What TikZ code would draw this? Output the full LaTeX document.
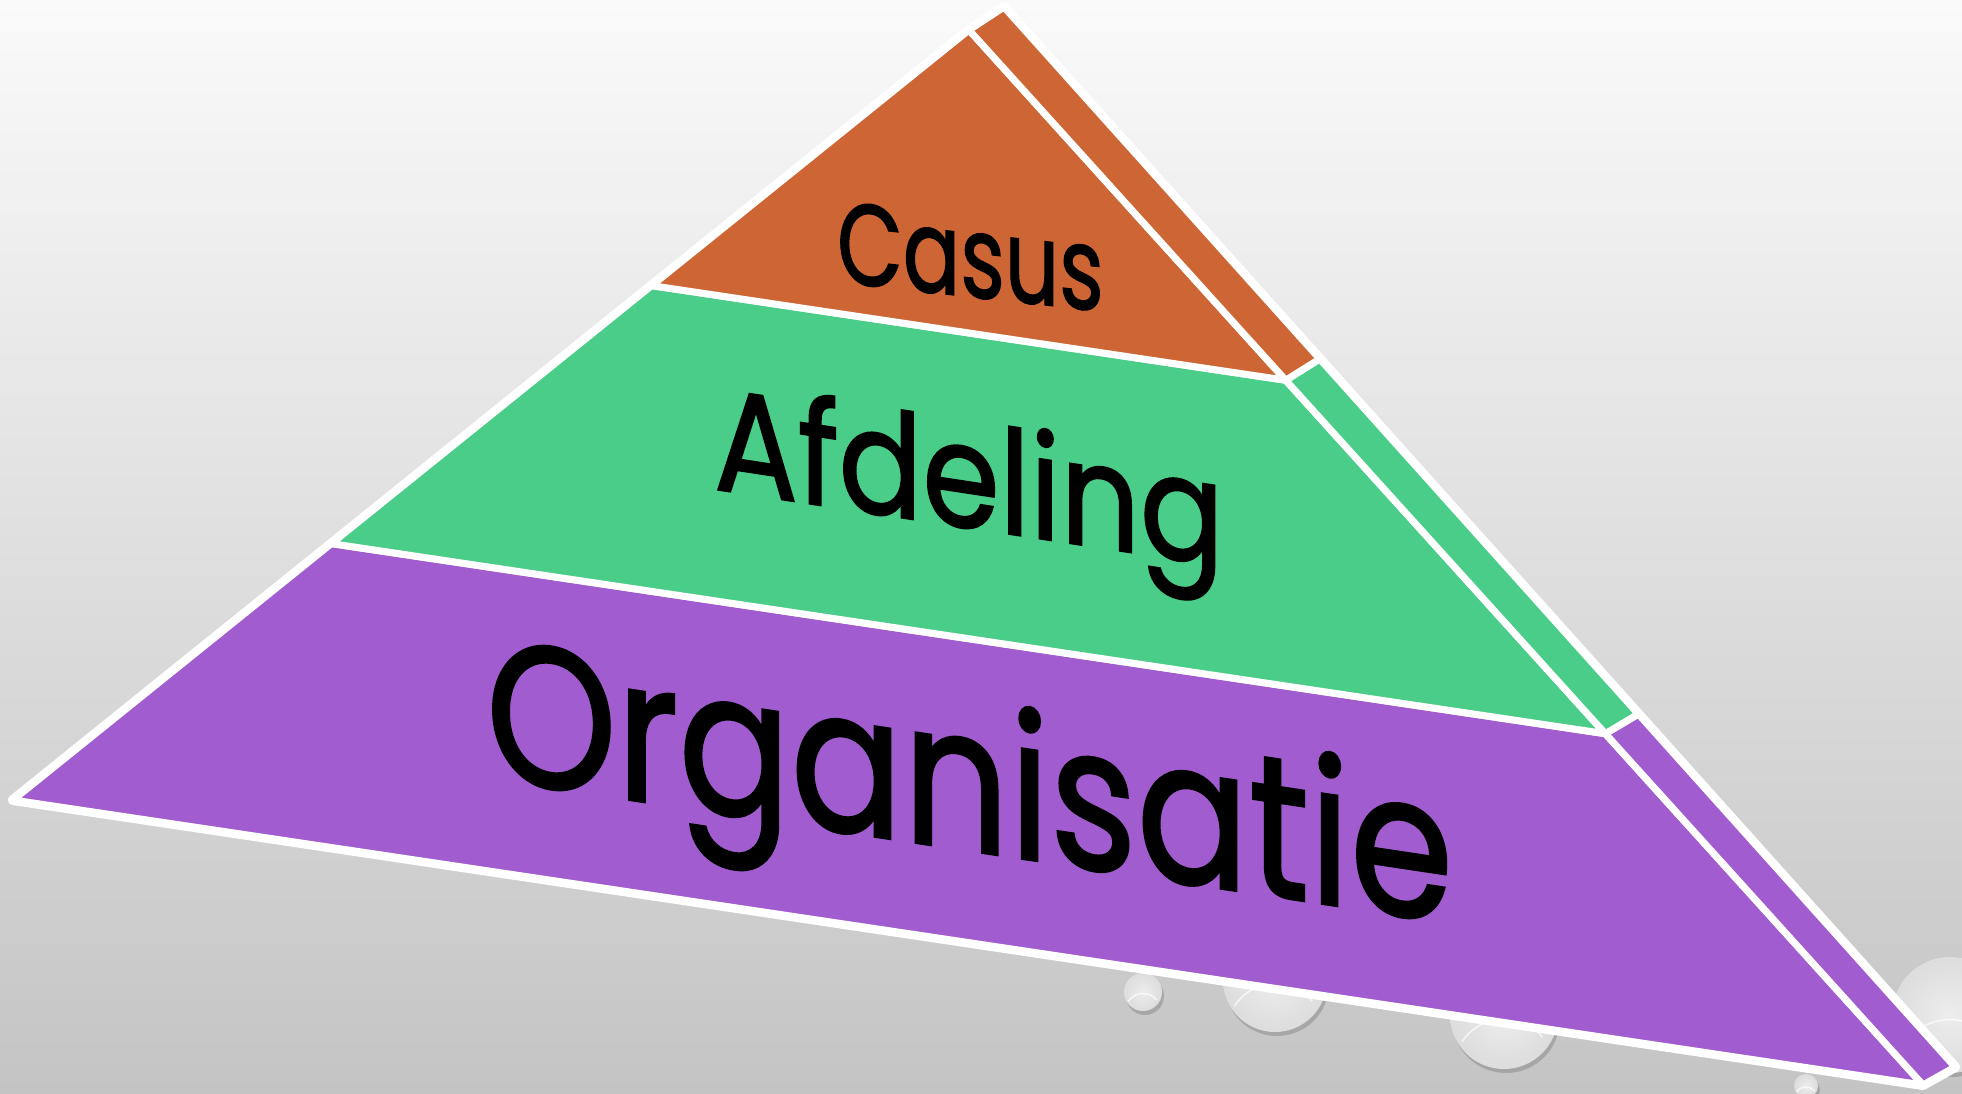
\documentclass[tikz,border=0pt]{standalone}
\usepackage{fontspec}
\setmainfont{Poppins}
\newfontfamily\tierfont{Poppins}[FakeBold=1.5]
\usetikzlibrary{calc}
\definecolor{layerOrange}{HTML}{CD6634}
\definecolor{layerGreen}{HTML}{49CD88}
\definecolor{layerPurple}{HTML}{A15CCF}
\definecolor{bgTop}{HTML}{FAFAFA}
\definecolor{bgMid}{HTML}{DEDEDE}
\definecolor{bgBot}{HTML}{C4C4C4}
\begin{document}
\begin{tikzpicture}[x=1pt,y=-1pt,
  face/.style={draw=white, line width=7pt, line join=round},
  rimline/.style={draw=white, line width=10pt, line join=round},
  tiertext/.style={inner sep=0pt, anchor=base west, text=black},
  dropshadow/.style={fill=black, opacity=0.16},
  dropbody/.style={inner color=gray!14, outer color=gray!27},
  droprim/.style={draw=white, line width=1.4pt, opacity=0.75}]
\useasboundingbox (0,0) rectangle (1962,1093);
\shade[top color=bgTop, middle color=bgMid, bottom color=bgBot] (0,0) rectangle (1962,1093);

% water drops in the background
\foreach \cx/\cy/\r in {1143/992/19, 1275/980/52, 1504/1015/54, 1950/1015/58, 1806/1086/12}{
  \fill[dropshadow] (\cx+2,\cy+4) circle (\r);
  \shade[dropbody] (\cx,\cy) circle (\r);
  \draw[droprim] (\cx-0.78*\r,\cy+0.5*\r) arc[start angle=-147, end angle=-40, radius=0.93*\r];
}

% pyramid geometry
\coordinate (A) at (969,30);
\coordinate (B) at (1004,7);
\coordinate (L) at (13,800);
\coordinate (R) at (1923,1085);
\coordinate (S) at (1955,1067);
\coordinate (L1) at ($(A)!0.332!(L)$);
\coordinate (L2) at ($(A)!0.667!(L)$);
\coordinate (R1) at ($(A)!0.332!(R)$);
\coordinate (R2) at ($(A)!0.667!(R)$);
\coordinate (S1) at ($(B)!0.332!(S)$);
\coordinate (S2) at ($(B)!0.667!(S)$);

% white outline around the whole pyramid
\path[rimline] (A) -- (B) -- (S) -- (R) -- (L) -- cycle;
% front faces
\path[face, fill=layerPurple] (L2) -- (L) -- (R) -- (R2) -- cycle;
\path[face, fill=layerGreen] (L1) -- (L2) -- (R2) -- (R1) -- cycle;
\path[face, fill=layerOrange] (A) -- (L1) -- (R1) -- cycle;
% side faces
\path[face, fill=layerPurple] (R2) -- (S2) -- (S) -- (R) -- cycle;
\path[face, fill=layerGreen] (R1) -- (S1) -- (S2) -- (R2) -- cycle;
\path[face, fill=layerOrange] (A) -- (B) -- (S1) -- (R1) -- cycle;

% labels
\node[tiertext, font=\tierfont\fontsize{115}{130}\selectfont, xscale=0.74, yslant=-0.081] (casus) at (837,282) {Casus};
\node[tiertext, font=\tierfont\fontsize{145}{165}\selectfont, xscale=0.856, yslant=-0.13] (afdeling) at (714,489) {Afdeling};
\node[tiertext, font=\tierfont\fontsize{200}{230}\selectfont, xscale=0.83, yslant=-0.1245] (organisatie) at (486,778) {Organisatie};
\end{tikzpicture}
\end{document}
